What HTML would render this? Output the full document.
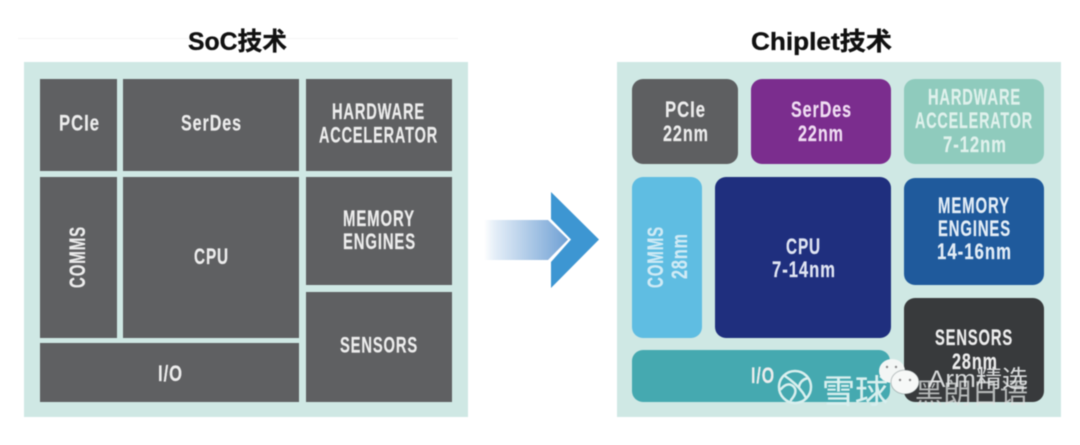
<!DOCTYPE html>
<html>
<head>
<meta charset="utf-8">
<style>
html,body{margin:0;padding:0;background:#fff;width:1080px;height:445px;overflow:hidden}
svg{display:block;filter:blur(.5px)}
text{font-family:"Liberation Sans","Noto Sans CJK SC",sans-serif}
.l{font-size:22px;font-weight:700;fill:#ececec;letter-spacing:1.3px;stroke:#ececec;stroke-width:.2px}
.t{font-size:25px;font-weight:700;fill:#111;stroke:#111;stroke-width:.35px}
.w{font-family:"Liberation Sans","Noto Sans CJK SC",sans-serif;font-weight:400}
</style>
</head>
<body>
<svg width="1080" height="445" viewBox="0 0 1080 445" xmlns="http://www.w3.org/2000/svg">
<defs>
<linearGradient id="g" x1="0" x2="1" y1="0" y2="0">
<stop offset="0" stop-color="#fff"/>
<stop offset=".12" stop-color="#e6eff8"/>
<stop offset="1" stop-color="#6fa0d4"/>
</linearGradient>
</defs>
<rect width="1080" height="445" fill="#fff"/>
<rect x="18" y="38" width="440" height="1" fill="#f5f5f5"/>

<!-- Titles -->
<text class="t" x="188" y="50" textLength="99" lengthAdjust="spacingAndGlyphs">SoC技术</text>
<text class="t" x="751" y="50" textLength="141" lengthAdjust="spacingAndGlyphs">Chiplet技术</text>

<!-- Left panel -->
<rect x="24" y="62" width="444" height="355" fill="#cfe8e4"/>
<g fill="#5f6062">
<rect x="40" y="79" width="77" height="92"/>
<rect x="123" y="79" width="176" height="92"/>
<rect x="306" y="79" width="146" height="92"/>
<rect x="40" y="177" width="77" height="161"/>
<rect x="123" y="177" width="176" height="161"/>
<rect x="306" y="177" width="146" height="108"/>
<rect x="306" y="292" width="146" height="110"/>
<rect x="40" y="343" width="259" height="59"/>
</g>
<g>
<text class="l" x="59" y="130.500" textLength="41" lengthAdjust="spacingAndGlyphs">PCIe</text>
<text class="l" x="181" y="130.500" textLength="61" lengthAdjust="spacingAndGlyphs">SerDes</text>
<text class="l" x="332" y="119" textLength="93" lengthAdjust="spacingAndGlyphs">HARDWARE</text>
<text class="l" x="319" y="142.500" textLength="119" lengthAdjust="spacingAndGlyphs">ACCELERATOR</text>
<text class="l" x="194" y="264" textLength="35" lengthAdjust="spacingAndGlyphs">CPU</text>
<text class="l" x="343" y="226" textLength="72" lengthAdjust="spacingAndGlyphs">MEMORY</text>
<text class="l" x="343" y="249" textLength="73" lengthAdjust="spacingAndGlyphs">ENGINES</text>
<text class="l" x="340" y="352.500" textLength="78" lengthAdjust="spacingAndGlyphs">SENSORS</text>
<text class="l" x="158" y="381" textLength="25" lengthAdjust="spacingAndGlyphs">I/O</text>
<text class="l" transform="translate(85 288) rotate(-90)" textLength="62" lengthAdjust="spacingAndGlyphs">COMMS</text>
</g>

<!-- Arrow -->
<polygon points="484,220 548,220 568,239.500 548,260 484,260" fill="url(#g)"/>
<polygon points="551,192 599,239.500 551,288 551,262 571,239.500 551,219" fill="#3d96d2"/>

<!-- Right panel -->
<rect x="617" y="62" width="444" height="355" fill="#cfe8e4"/>
<rect x="632" y="79" width="106" height="85" rx="11" fill="#5e5f61"/>
<rect x="751" y="79" width="140" height="85" rx="11" fill="#7b2d8e"/>
<rect x="904" y="79" width="140" height="85" rx="11" fill="#8fcbbd"/>
<rect x="632" y="177" width="70" height="161" rx="11" fill="#5fbde2"/>
<rect x="715" y="177" width="176" height="161" rx="11" fill="#1f2f7e"/>
<rect x="904" y="178" width="140" height="107" rx="11" fill="#1f5a9c"/>
<rect x="904" y="298" width="140" height="104" rx="11" fill="#383a3c"/>
<rect x="632" y="350" width="258" height="52" rx="11" fill="#45a9b0"/>

<g>
<text class="l" x="665" y="117" textLength="41" lengthAdjust="spacingAndGlyphs">PCIe</text>
<text class="l" x="663" y="141" textLength="46" lengthAdjust="spacingAndGlyphs">22nm</text>
<text class="l" x="791" y="117" textLength="61" lengthAdjust="spacingAndGlyphs" style="fill:#efdcf2;stroke:#efdcf2">SerDes</text>
<text class="l" x="798" y="141" textLength="46" lengthAdjust="spacingAndGlyphs" style="fill:#efdcf2;stroke:#efdcf2">22nm</text>
<text class="l" x="928" y="104.500" textLength="93" lengthAdjust="spacingAndGlyphs" style="fill:#dff1ec;stroke:#dff1ec">HARDWARE</text>
<text class="l" x="915" y="128" textLength="118" lengthAdjust="spacingAndGlyphs" style="fill:#dff1ec;stroke:#dff1ec">ACCELERATOR</text>
<text class="l" x="943" y="152" textLength="64" lengthAdjust="spacingAndGlyphs" style="fill:#dff1ec;stroke:#dff1ec">7-12nm</text>
<text class="l" x="786" y="254" textLength="35" lengthAdjust="spacingAndGlyphs" style="fill:#dfe4f2;stroke:#dfe4f2">CPU</text>
<text class="l" x="772" y="277" textLength="64" lengthAdjust="spacingAndGlyphs" style="fill:#dfe4f2;stroke:#dfe4f2">7-14nm</text>
<text class="l" x="938" y="213" textLength="72" lengthAdjust="spacingAndGlyphs" style="fill:#e3edf6;stroke:#e3edf6">MEMORY</text>
<text class="l" x="938" y="236" textLength="73" lengthAdjust="spacingAndGlyphs" style="fill:#e3edf6;stroke:#e3edf6">ENGINES</text>
<text class="l" x="937" y="259" textLength="75" lengthAdjust="spacingAndGlyphs" style="fill:#e3edf6;stroke:#e3edf6">14-16nm</text>
<text class="l" x="935" y="345" textLength="78" lengthAdjust="spacingAndGlyphs">SENSORS</text>
<text class="l" x="952" y="369" textLength="46" lengthAdjust="spacingAndGlyphs">28nm</text>
<text class="l" x="751" y="383" textLength="24" lengthAdjust="spacingAndGlyphs">I/O</text>
<text class="l" transform="translate(663 288) rotate(-90)" textLength="62" lengthAdjust="spacingAndGlyphs" style="fill:#cfeaf5;stroke:#cfeaf5">COMMS</text>
<text class="l" transform="translate(687 279) rotate(-90)" textLength="46" lengthAdjust="spacingAndGlyphs" style="fill:#cfeaf5;stroke:#cfeaf5">28nm</text>
</g>

<!-- Watermarks -->
<g fill="none" stroke="#d8efee" stroke-width="2.500" stroke-linecap="round">
<circle cx="795" cy="387" r="16"/>
<path d="M785 376 Q800 386 806 398"/>
<path d="M781 389 Q788 381 794 387 Q798 392 791 400"/>
<path d="M808 378 Q800 380 799 387"/>
</g>
<text class="w" x="822" y="403" font-size="33" fill="#d8efee" stroke="#d8efee" stroke-width=".3" textLength="66" lengthAdjust="spacingAndGlyphs">雪球</text>
<ellipse cx="892" cy="371" rx="13" ry="12" fill="#f3f6f5"/>
<circle cx="887" cy="367" r="1.200" fill="#888"/>
<circle cx="896" cy="367" r="1.200" fill="#888"/>
<ellipse cx="905" cy="382" rx="14" ry="12" fill="#f6f8f7" stroke="#4f5f60" stroke-opacity=".35"/>
<circle cx="900" cy="380" r="1.200" fill="#888"/>
<circle cx="910" cy="380" r="1.200" fill="#888"/>
<text class="w" x="915" y="403" font-size="28" fill="#dfe3e2" fill-opacity=".75" textLength="113" lengthAdjust="spacingAndGlyphs">黑朗日语</text>
<text class="w" x="928" y="387" font-size="24" fill="#e8eaea" fill-opacity=".9" textLength="100" lengthAdjust="spacingAndGlyphs">Arm精选</text>
</svg>
</body>
</html>
